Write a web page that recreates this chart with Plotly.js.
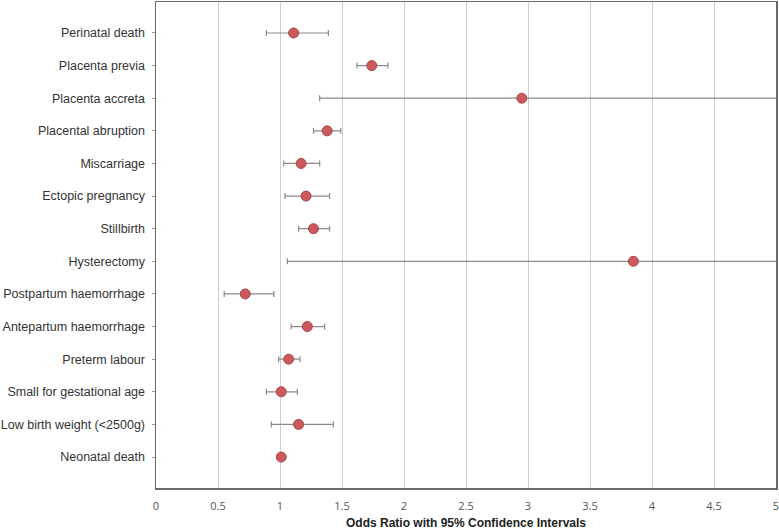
<!DOCTYPE html>
<html>
<head>
<meta charset="utf-8">
<script src="https://cdn.plot.ly/plotly-3.0.1.min.js"></script>
<style>
  html, body { margin: 0; padding: 0; background: #fff; }
  #plot { width: 779px; height: 530px; }
</style>
</head>
<body>
<div id="plot"></div>
<script>
const outcomes = [
    'Perinatal death',
    'Placenta previa',
    'Placenta accreta',
    'Placental abruption',
    'Miscarriage',
    'Ectopic pregnancy',
    'Stillbirth',
    'Hysterectomy',
    'Postpartum haemorrhage',
    'Antepartum haemorrhage',
    'Preterm labour',
    'Small for gestational age',
    'Low birth weight (<2500g)',
    'Neonatal death'
];

const oddsRatio = [1.11, 1.74, 2.95, 1.38, 1.17, 1.21, 1.27, 3.85, 0.72, 1.22, 1.07, 1.01, 1.15, 1.01];
const ciLower   = [0.89, 1.62, 1.32, 1.27, 1.03, 1.04, 1.15, 1.06, 0.55, 1.09, 0.99, 0.89, 0.93, 0.98];
const ciUpper   = [1.39, 1.87, 6.60, 1.49, 1.32, 1.40, 1.40, 13.9, 0.95, 1.36, 1.16, 1.14, 1.43, 1.04];

const xTicks = [0, 0.5, 1, 1.5, 2, 2.5, 3, 3.5, 4, 4.5, 5];

function draw() {
    let plus = ciUpper.map((u, i) => u - oddsRatio[i]);
    let minus = ciLower.map((l, i) => oddsRatio[i] - l);

    let data1 = {
        name: 'Odds ratio',
        x: oddsRatio,
        y: outcomes,
        type: 'scatter',
        mode: 'markers',
        marker: {
            size: 10,
            color: '#cc5a5c',
            line: { color: '#a84648', width: 1 }
        },
        error_x: {
            type: 'data',
            symmetric: false,
            array: plus,
            arrayminus: minus,
            color: '#8a8a8a',
            thickness: 1.2,
            width: 3
        },
        cliponaxis: true,
        showlegend: false
    };

    let layout = {
        width: 779,
        height: 530,
        margin: { l: 156, r: 3, t: 2, b: 42 },
        paper_bgcolor: '#ffffff',
        plot_bgcolor: '#ffffff',
        showlegend: false,
        font: { family: 'Liberation Sans, Arial, sans-serif', color: '#333333' },
        xaxis: {
            range: [0, 5],
            tickvals: xTicks,
            ticktext: xTicks.map(String),
            showgrid: true,
            gridcolor: '#cfcfcf',
            gridwidth: 1,
            zeroline: false,
            showline: true,
            linecolor: '#6a6a6a',
            linewidth: 1.5,
            mirror: true,
            ticks: 'outside',
            ticklen: 7,
            tickcolor: 'rgba(0,0,0,0)',
            ticklabeloverflow: 'allow',
            tickfont: { family: 'Open Sans, DejaVu Sans, sans-serif', size: 11, color: '#555555' },
            title: {
                text: 'Odds Ratio with 95% Confidence Intervals',
                font: { family: 'Liberation Sans, Arial, sans-serif', size: 12, color: '#222222', weight: 'bold' },
                standoff: 8
            }
        },
        yaxis: {
            type: 'category',
            categoryorder: 'array',
            categoryarray: outcomes,
            range: [13.95, -0.95],
            showgrid: false,
            zeroline: false,
            showline: true,
            linecolor: '#6a6a6a',
            linewidth: 1.5,
            mirror: true,
            ticks: 'outside',
            ticklen: 3,
            tickcolor: '#9a9a9a',
            ticklabelstandoff: 4,
            tickfont: { family: 'Liberation Sans, Arial, sans-serif', size: 12.5, color: '#333333' }
        }
    };

    Plotly.newPlot(document.getElementById('plot'), [data1], layout, { displayModeBar: false, staticPlot: true });
}

draw();
</script>
</body>
</html>
